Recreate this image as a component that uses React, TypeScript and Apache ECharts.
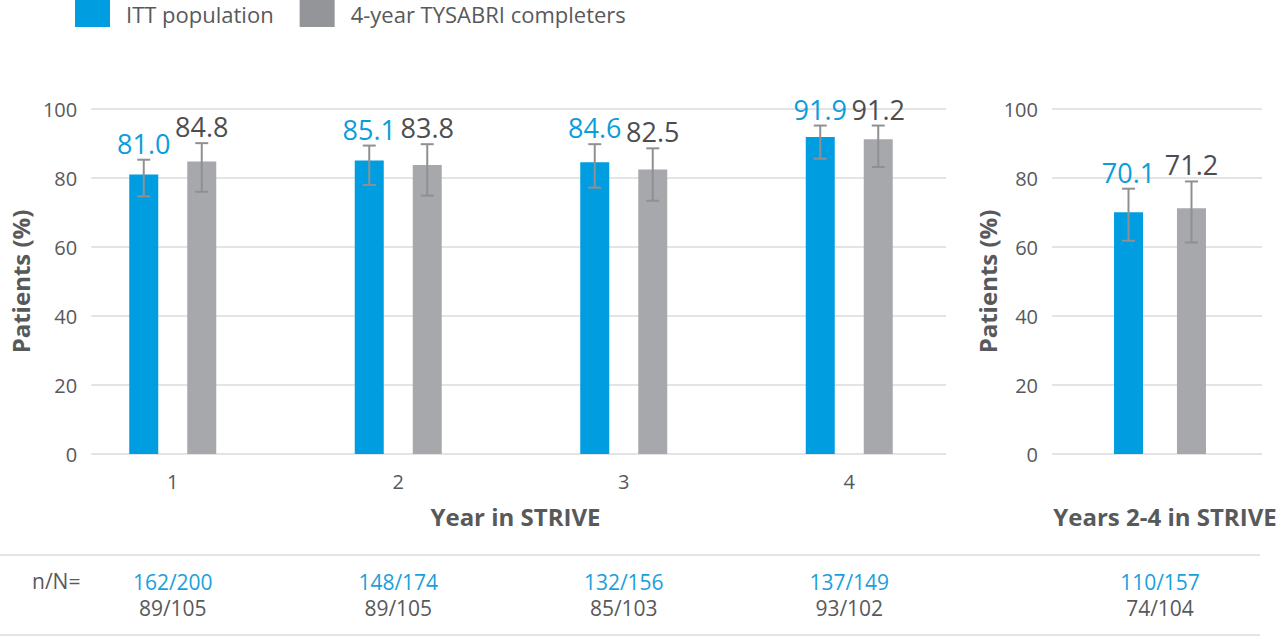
import React, { useEffect, useRef } from "react";
import * as echarts from "echarts";

const categories = ["1", "2", "3", "4"];
const ittValues = [81.0, 85.1, 84.6, 91.9];
const completerValues = [84.8, 83.8, 82.5, 91.2];
const ittLower = [74.7, 78.0, 77.2, 85.6];
const ittUpper = [85.3, 89.4, 89.8, 95.2];
const completerLower = [76.0, 74.9, 73.4, 83.2];
const completerUpper = [90.1, 89.8, 88.6, 95.2];
const ittCounts = ["162/200", "148/174", "132/156", "137/149"];
const completerCounts = ["89/105", "89/105", "85/103", "93/102"];

const overallCategories = ["Years 2-4"];
const ittOverall = [70.1];
const completerOverall = [71.2];
const ittOverallLower = [61.8];
const ittOverallUpper = [76.9];
const completerOverallLower = [61.3];
const completerOverallUpper = [79.0];
const ittOverallCounts = ["110/157"];
const completerOverallCounts = ["74/104"];

const yMin = 0;
const yMax = 100;
const yInterval = 20;

const BLUE = "#009ee0";
const GREY = "#a7a8ab";
const TEXT = "#58595b";
const ERR = "#8f9092";
const GRID = "#e4e4e4";
const FONT = "'Open Sans', sans-serif";

function errorSeries(
  name: string,
  values: number[],
  lower: number[],
  upper: number[],
  xAxisIndex: number,
  yAxisIndex: number,
  offset: number,
  color: string
) {
  return {
    type: "custom",
    name: name + " CI",
    xAxisIndex,
    yAxisIndex,
    z: 5,
    silent: true,
    data: values.map((v, i) => [i, lower[i], upper[i], v]),
    renderItem: (params: any, api: any) => {
      const i = api.value(0);
      const lo = api.coord([i, api.value(1)]);
      const hi = api.coord([i, api.value(2)]);
      const v = api.value(3);
      const x = lo[0] + offset;
      const cap = 6.5;
      const st = { stroke: ERR, lineWidth: 2 };
      return {
        type: "group",
        children: [
          { type: "line", shape: { x1: x, y1: lo[1], x2: x, y2: hi[1] }, style: st },
          { type: "line", shape: { x1: x - cap, y1: lo[1], x2: x + cap, y2: lo[1] }, style: st },
          { type: "line", shape: { x1: x - cap, y1: hi[1], x2: x + cap, y2: hi[1] }, style: st },
          {
            type: "text",
            x: x,
            y: hi[1] - 3,
            style: {
              text: Number(v).toFixed(1),
              fill: color,
              font: "27px " + FONT,
              textAlign: "center",
              textVerticalAlign: "bottom",
            },
          },
        ],
      };
    },
  };
}

export default function App() {
  const ref = useRef<HTMLDivElement>(null);
  useEffect(() => {
    if (!ref.current) return;
    const chart = echarts.init(ref.current, undefined, { renderer: "svg" });
    const top = 109;
    const bottom = 183;
    const hiddenY = (gridIndex: number) => ({
      type: "value",
      gridIndex,
      min: yMin,
      max: yMax,
      interval: yInterval,
      show: false,
      splitLine: { show: false },
    });
    const shownY = (gridIndex: number) => ({
      type: "value",
      gridIndex,
      min: yMin,
      max: yMax,
      interval: yInterval,
      name: "Patients (%)",
      nameLocation: "middle",
      nameGap: 50,
      nameTextStyle: { color: TEXT, fontSize: 24, fontWeight: "bold", fontFamily: FONT },
      axisLine: { show: false },
      axisTick: { show: false },
      axisLabel: { color: TEXT, fontSize: 20, fontFamily: FONT, margin: 14 },
      splitLine: { show: true, lineStyle: { color: GRID, width: 2 } },
    });
    const tableAxis = (gridIndex: number, data: string[], a: string[], b: string[]) => ({
      type: "category",
      gridIndex,
      data,
      position: "bottom",
      axisLine: { show: false },
      axisTick: { show: false },
      splitLine: { show: false },
      axisLabel: {
        margin: 115,
        interval: 0,
        formatter: (_v: string, idx: number) => `{a|${a[idx]}}\n{b|${b[idx]}}`,
        rich: {
          a: { color: "#1a9fdc", fontSize: 21, lineHeight: 26, fontFamily: FONT },
          b: { color: TEXT, fontSize: 21, lineHeight: 26, fontFamily: FONT },
        },
      },
    });
    const option: any = {
      animation: false,
      backgroundColor: "#ffffff",
      textStyle: { fontFamily: FONT },
      legend: {
        left: 75,
        top: 0,
        padding: 0,
        itemWidth: 35,
        itemHeight: 27,
        itemGap: 26,
        icon: "rect",
        selectedMode: false,
        textStyle: { color: TEXT, fontSize: 22, fontFamily: FONT, padding: [0, 0, 0, 11] },
        data: [
          { name: "ITT population", itemStyle: { color: BLUE } },
          { name: "4-year TYSABRI completers", itemStyle: { color: "#939598" } },
        ],
      },
      grid: [
        { left: 60, width: 902, top, bottom },
        { left: 74, width: 872, top, bottom },
        { left: 1052, width: 210, top, bottom },
        { left: 1058, width: 204, top, bottom },
      ],
      xAxis: [
        {
          type: "category",
          gridIndex: 0,
          data: categories,
          axisLine: { show: false },
          axisTick: { show: false },
          axisLabel: { color: TEXT, fontSize: 20, fontFamily: FONT, margin: 17 },
          name: "Year in STRIVE",
          nameLocation: "middle",
          nameGap: 50,
          nameTextStyle: {
            color: TEXT,
            fontSize: 24,
            fontWeight: "bold",
            fontFamily: FONT,
            padding: [0, 0, 0, 9],
          },
        },
        { type: "category", gridIndex: 1, data: categories, show: false },
        { type: "category", gridIndex: 2, data: overallCategories, show: false },
        {
          type: "category",
          gridIndex: 3,
          data: overallCategories,
          axisLine: { show: false },
          axisTick: { show: false },
          axisLabel: { show: false },
          name: "Years 2-4 in STRIVE",
          nameLocation: "middle",
          nameGap: 50,
          nameTextStyle: {
            color: TEXT,
            fontSize: 24,
            fontWeight: "bold",
            fontFamily: FONT,
            padding: [0, 0, 0, 10],
          },
        },
        tableAxis(0, categories, ittCounts, completerCounts),
        tableAxis(3, overallCategories, ittOverallCounts, completerOverallCounts),
      ],
      yAxis: [hiddenY(0), shownY(1), shownY(2), hiddenY(3)],
      series: [
        {
          type: "bar",
          name: "ITT population",
          xAxisIndex: 0,
          yAxisIndex: 0,
          data: ittValues,
          barWidth: 29,
          barGap: "100%",
          itemStyle: { color: BLUE },
        },
        {
          type: "bar",
          name: "4-year TYSABRI completers",
          xAxisIndex: 0,
          yAxisIndex: 0,
          data: completerValues,
          barWidth: 29,
          barGap: "100%",
          itemStyle: { color: GREY },
        },
        {
          type: "bar",
          name: "ITT population",
          xAxisIndex: 3,
          yAxisIndex: 3,
          data: ittOverall,
          barWidth: 29,
          barGap: "117%",
          itemStyle: { color: BLUE },
        },
        {
          type: "bar",
          name: "4-year TYSABRI completers",
          xAxisIndex: 3,
          yAxisIndex: 3,
          data: completerOverall,
          barWidth: 29,
          barGap: "117%",
          itemStyle: { color: GREY },
        },
        errorSeries("ITT population", ittValues, ittLower, ittUpper, 0, 0, -29, "#0a9ddc"),
        errorSeries("4-year TYSABRI completers", completerValues, completerLower, completerUpper, 0, 0, 29, "#4d4d4f"),
        errorSeries("ITT population", ittOverall, ittOverallLower, ittOverallUpper, 3, 3, -31.5, "#0a9ddc"),
        errorSeries("4-year TYSABRI completers", completerOverall, completerOverallLower, completerOverallUpper, 3, 3, 31.5, "#4d4d4f"),
      ],
      graphic: [
        { type: "line", shape: { x1: 0, y1: 555, x2: 1260, y2: 555 }, style: { stroke: GRID, lineWidth: 2 } },
        { type: "line", shape: { x1: 0, y1: 635, x2: 1260, y2: 635 }, style: { stroke: GRID, lineWidth: 2 } },
        {
          type: "text",
          left: 32,
          top: 570,
          style: { text: "n/N=", fill: TEXT, font: "21px " + FONT },
        },
      ],
    };
    chart.setOption(option);
    return () => chart.dispose();
  }, []);
  return (
    <div
      ref={ref}
      style={{ position: "fixed", left: 0, top: 0, width: 1280, height: 637, background: "#fff" }}
    />
  );
}
